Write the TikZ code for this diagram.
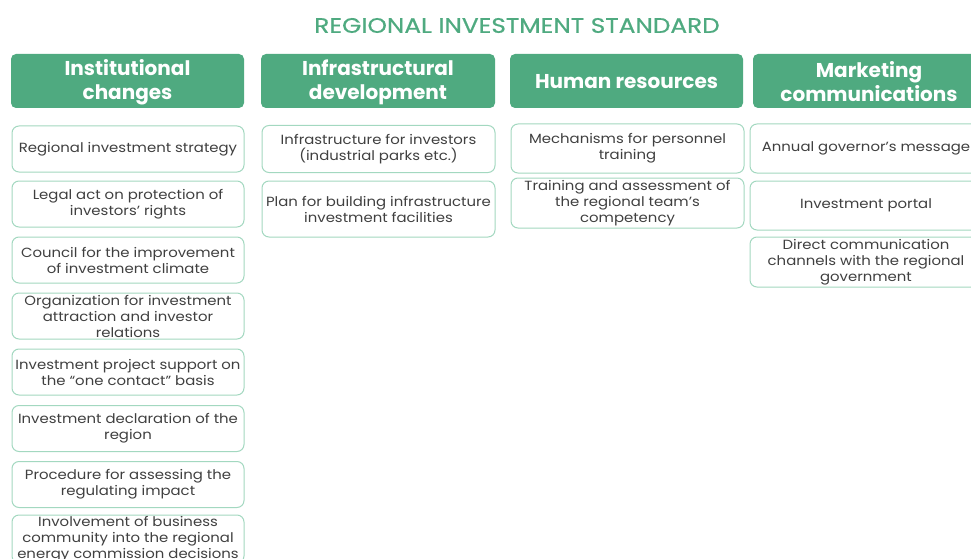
\documentclass[tikz,border=0pt]{standalone}
\usepackage{fontspec}
\setmainfont{Poppins}
\newfontfamily\itemfont[FakeStretch=1.12]{Poppins}
\newfontfamily\titlefont[FakeStretch=1.18,FakeBold=0.6]{Poppins}
\definecolor{hdrgreen}{HTML}{4FAA80}
\definecolor{boxline}{HTML}{A3D8C0}
\definecolor{itemtext}{HTML}{404040}
\begin{document}
\begin{tikzpicture}[x=1pt,y=-1pt,
  hdr/.style={rectangle, rounded corners=5pt, fill=hdrgreen, draw=none,
    text=white, font=\fontsize{20}{24}\selectfont\bfseries, align=center,
    minimum height=54pt, inner sep=0pt},
  hdrtext/.style={text=white, font=\fontsize{20}{24}\selectfont\bfseries,
    align=center, inner sep=0pt},
  item/.style={rectangle, rounded corners=7pt, draw=boxline, line width=1pt,
    fill=white, text=itemtext, font=\itemfont\fontsize{13.3}{16}\selectfont,
    align=center, inner sep=0pt},
  ttl/.style={text=hdrgreen, font=\titlefont\fontsize{21}{24}\selectfont}]
\useasboundingbox (0,0) rectangle (971,559);
\clip (0,0) rectangle (971,559);
\node[ttl] (title) at (517,25.5) {REGIONAL INVESTMENT STANDARD};
% headers
\node[hdr, minimum width=233pt] (h1) at (127.5,81) {};
\node[hdrtext] (h1t) at ([yshift=-1.5pt]h1.center) {Institutional\\changes};
\node[hdr, minimum width=234pt] (h2) at (378,81) {};
\node[hdrtext] (h2t) at ([yshift=-1.5pt]h2.center) {Infrastructural\\development};
\node[hdr, minimum width=233pt] (h3) at (626.5,81) {};
\node[hdrtext] (h3t) at ([yshift=-1pt]h3.center) {Human resources};
\node[hdr, minimum width=232pt] (h4) at (869,81) {};
\node[hdrtext] (h4t) at ([yshift=-0.5pt]h4.center) {Marketing\\communications};
% column 1
\node[item, minimum width=232pt, minimum height=46pt] (a1) at (128,149) {Regional investment strategy};
\node[item, minimum width=232pt, minimum height=46pt] (a2) at (128,204) {Legal act on protection of\\investors’ rights};
\node[item, minimum width=232pt, minimum height=46pt] (a3) at (128,260) {Council for the improvement\\of investment climate};
\node[item, minimum width=232pt, minimum height=46pt] (a4) at (128,316) {Organization for investment\\attraction and investor\\relations};
\node[item, minimum width=232pt, minimum height=46pt] (a5) at (128,372) {Investment project support on\\the “one contact” basis};
\node[item, minimum width=232pt, minimum height=46pt] (a6) at (128,428.5) {Investment declaration of the\\region};
\node[item, minimum width=232pt, minimum height=46pt] (a7) at (128,484.5) {Procedure for assessing the\\regulating impact};
\node[item, minimum width=232pt, minimum height=48pt] (a8) at (128,539) {Involvement of business\\community into the regional\\energy commission decisions};
% column 2
\node[item, minimum width=233pt, minimum height=47pt] (b1) at (378.5,149) {Infrastructure for investors\\(industrial parks etc.)};
\node[item, minimum width=233pt, minimum height=56pt] (b2) at (378.5,209) {Plan for building infrastructure\\investment facilities};
% column 3
\node[item, minimum width=233pt, minimum height=49pt] (c1) at (627.5,148.5) {Mechanisms for personnel\\training};
\node[item, minimum width=233pt, minimum height=50pt] (c2) at (627.5,203) {Training and assessment of\\the regional team’s\\competency};
% column 4
\node[item, minimum width=232pt, minimum height=49pt] (d1) at (866,148.5) {Annual governor’s message};
\node[item, minimum width=232pt, minimum height=49pt] (d2) at (866,205.5) {Investment portal};
\node[item, minimum width=232pt, minimum height=50pt] (d3) at (866,262) {Direct communication\\channels with the regional\\government};
\end{tikzpicture}
\end{document}
